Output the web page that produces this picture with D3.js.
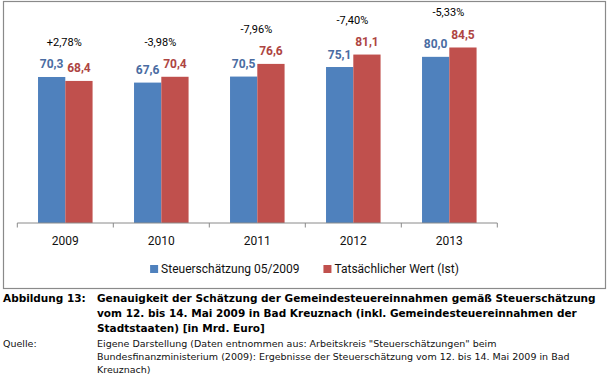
<!DOCTYPE html>
<html>
<head>
<meta charset="utf-8">
<script src="https://cdn.jsdelivr.net/npm/d3@7"></script>
<style>
  body { margin: 0; background: #fff; }
  svg { display: block; }
</style>
</head>
<body>
<div id="chart"></div>
<script>
const years = ['2009', '2010', '2011', '2012', '2013'];
const estimate = [70.3, 67.6, 70.5, 75.1, 80.0];
const actual = [68.4, 70.4, 76.6, 81.1, 84.5];
const deviation = ['+2,78%', '-3,98%', '-7,96%', '-7,40%', '-5,33%'];
const seriesNames = ['Steuerschätzung 05/2009', 'Tatsächlicher Wert (Ist)'];
const captionLabel = 'Abbildung 13:';
const captionLines = [
    'Genauigkeit der Schätzung der Gemeindesteuereinnahmen gemäß Steuerschätzung',
    'vom 12. bis 14. Mai 2009 in Bad Kreuznach (inkl. Gemeindesteuereinnahmen der',
    'Stadtstaaten) [in Mrd. Euro]'
];
const sourceLabel = 'Quelle:';
const sourceLines = [
    'Eigene Darstellung (Daten entnommen aus: Arbeitskreis "Steuerschätzungen" beim',
    'Bundesfinanzministerium (2009): Ergebnisse der Steuerschätzung vom 12. bis 14. Mai 2009 in Bad',
    'Kreuznach)'
];

const width = 609,
      height = 377,
      colors = ['#4F81BD', '#C0504D'],
      labelColors = ['#4A6CA2', '#AE4542'],
      chartFont = 'Roboto, "Liberation Sans", sans-serif',
      captionFont = '"DejaVu Sans", sans-serif';

const de = d3.formatLocale({ decimal: ',', thousands: '.', grouping: [3], currency: ['', ' €'] });
const fmt = de.format('.1f');

const rows = years.map((y, i) => ({ year: y, values: [estimate[i], actual[i]], dev: deviation[i] }));

const svg = d3.select('#chart')
    .append('svg')
    .attr('width', width)
    .attr('height', height);

// chart frame
svg.append('rect')
    .attr('x', 3.5)
    .attr('y', 1.5)
    .attr('width', 602)
    .attr('height', 287)
    .attr('fill', 'none')
    .attr('stroke', '#8a8a8a')
    .attr('stroke-width', 1.2);

const x = d3.scaleBand()
    .domain(years)
    .range([17.3, 497.3])
    .paddingInner(0)
    .paddingOuter(0);

const xSub = d3.scaleBand()
    .domain([0, 1])
    .range([0, x.bandwidth()])
    .paddingInner(0)
    .paddingOuter(0.76);

const y = d3.scaleLinear()
    .domain([0, 100])
    .range([223, 15.3]);

const groups = svg.append('g')
    .selectAll('g')
    .data(rows)
    .enter()
    .append('g')
    .attr('transform', d => `translate(${x(d.year)}, 0)`);

groups.selectAll('rect')
    .data(d => d.values)
    .enter()
    .append('rect')
    .attr('x', (d, i) => xSub(i))
    .attr('y', d => y(d))
    .attr('width', xSub.bandwidth())
    .attr('height', d => y(0) - y(d))
    .attr('fill', (d, i) => colors[i]);

groups.selectAll('text.value')
    .data(d => d.values)
    .enter()
    .append('text')
    .attr('class', 'value')
    .attr('x', (d, i) => xSub(i) + xSub.bandwidth() / 2)
    .attr('y', d => y(d) - 8.5)
    .attr('text-anchor', 'middle')
    .style('font', `bold 12px ${chartFont}`)
    .attr('fill', (d, i) => labelColors[i])
    .text(d => fmt(d));

groups.append('text')
    .attr('x', x.bandwidth() / 2 - 1)
    .attr('y', d => y(d3.max(d.values)) - 31)
    .attr('text-anchor', 'middle')
    .style('font', `11px ${chartFont}`)
    .attr('fill', '#000')
    .text(d => d.dev);

// category axis
const axis = svg.append('g').attr('transform', `translate(0, ${y(0)})`);
axis.append('line')
    .attr('x1', x.range()[0])
    .attr('x2', x.range()[1])
    .attr('stroke', '#8a8a8a');
axis.selectAll('line.tick')
    .data(years.map(d => x(d)).concat([x.range()[1]]))
    .enter()
    .append('line')
    .attr('class', 'tick')
    .attr('x1', d => d)
    .attr('x2', d => d)
    .attr('y1', 0)
    .attr('y2', 4.5)
    .attr('stroke', '#8a8a8a');
axis.selectAll('text')
    .data(years)
    .enter()
    .append('text')
    .attr('x', d => x(d) + x.bandwidth() / 2)
    .attr('y', 22)
    .attr('text-anchor', 'middle')
    .style('font', `12px ${chartFont}`)
    .attr('fill', '#111')
    .text(d => d);

// legend
const legend = svg.append('g');
const items = legend.selectAll('g')
    .data(seriesNames)
    .enter()
    .append('g');
items.append('rect')
    .attr('y', 265)
    .attr('width', 8)
    .attr('height', 8)
    .attr('fill', (d, i) => colors[i]);
items.append('text')
    .attr('x', 11)
    .attr('y', 273)
    .style('font', `12px ${chartFont}`)
    .attr('fill', '#111')
    .text(d => d);
let lx = 0;
items.each(function () {
    d3.select(this).attr('transform', `translate(${lx}, 0)`);
    lx += 11 + d3.select(this).select('text').node().getComputedTextLength() + 24;
});
const legendWidth = lx - 24;
legend.attr('transform', `translate(${(3.5 + 605.5) / 2 - legendWidth / 2}, 0)`);

// caption below the chart
svg.append('text')
    .attr('x', 3)
    .attr('y', 302)
    .style('font', `bold 10.5px ${captionFont}`)
    .attr('fill', '#000')
    .text(captionLabel);
svg.append('g')
    .selectAll('text')
    .data(captionLines)
    .enter()
    .append('text')
    .attr('x', 97)
    .attr('y', (d, i) => 302 + i * 15)
    .style('font', `bold 10.5px ${captionFont}`)
    .attr('fill', '#000')
    .text(d => d);

svg.append('text')
    .attr('x', 3)
    .attr('y', 347)
    .style('font', `9.5px ${captionFont}`)
    .attr('fill', '#111')
    .text(sourceLabel);
svg.append('g')
    .selectAll('text')
    .data(sourceLines)
    .enter()
    .append('text')
    .attr('x', 97)
    .attr('y', (d, i) => 347 + i * 13)
    .style('font', `9.5px ${captionFont}`)
    .attr('fill', '#111')
    .text(d => d);
</script>
</body>
</html>
